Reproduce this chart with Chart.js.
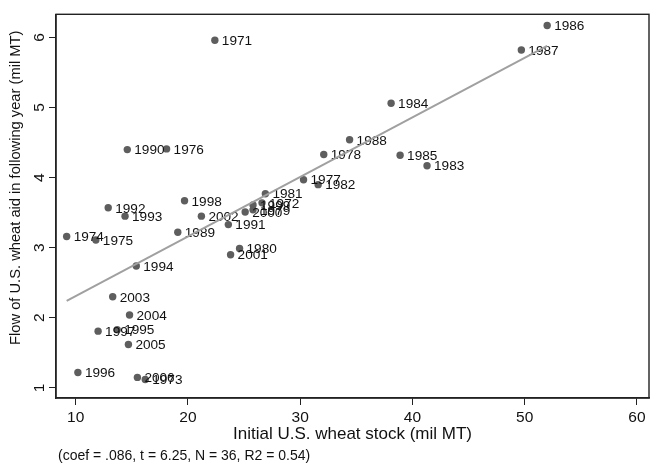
<!DOCTYPE html>
<html>
<head>
<meta charset="utf-8">
<script src="https://cdn.jsdelivr.net/npm/chart.js@4.4.1/dist/chart.umd.min.js"></script>
<style>
  html, body { margin: 0; padding: 0; background: #fff; }
  #wrap { width: 653px; height: 464px; }
</style>
</head>
<body>
<div id="wrap"><canvas id="wheatChart" width="653" height="464"></canvas></div>
<script>
// years used as point labels
const years = [1971, 1972, 1973, 1974, 1975, 1976, 1977, 1978, 1979, 1980,
  1981, 1982, 1983, 1984, 1985, 1986, 1987, 1988, 1989, 1990,
  1991, 1992, 1993, 1994, 1995, 1996, 1997, 1998, 1999, 2000,
  2001, 2002, 2003, 2004, 2005, 2006];

// initial stock (mil MT)
const stock = [22.4, 26.6, 16.2, 9.2, 11.8, 18.1, 30.3, 32.1, 25.8, 24.6,
  26.9, 31.6, 41.3, 38.1, 38.9, 52.0, 49.7, 34.4, 19.1, 14.6,
  23.6, 12.9, 14.4, 15.4, 13.7, 10.2, 12.0, 19.7, 25.8, 25.1,
  23.8, 21.2, 13.3, 14.8, 14.7, 15.5];

// aid flow in following year (mil MT)
const aid = [5.96, 3.64, 1.12, 3.16, 3.11, 4.41, 3.97, 4.33, 3.54, 2.99,
  3.77, 3.90, 4.17, 5.06, 4.32, 6.17, 5.82, 4.54, 3.22, 4.40,
  3.33, 3.57, 3.45, 2.74, 1.83, 1.22, 1.81, 3.67, 3.61, 3.51,
  2.90, 3.45, 2.30, 2.04, 1.62, 1.15];

// fitted line end points
const fitX = [9.2, 52.0];
const fitY = [2.24, 5.88];

const xTicks = [10, 20, 30, 40, 50, 60];
const yTicks = [1, 2, 3, 4, 5, 6];

const note = "(coef = .086, t = 6.25, N = 36, R2 = 0.54)";

const FONT = "'Liberation Sans', Arial, Helvetica, sans-serif";

/* point labels, drawn right after the scatter so the fit line sits on top */
const pointLabels = {
  id: "pointLabels",
  afterDatasetDraw(chart, args) {
    if (args.index !== 0) return;
    const ctx = chart.ctx;
    ctx.save();
    ctx.font = "13.6px " + FONT;
    ctx.fillStyle = "#111";
    ctx.textAlign = "left";
    ctx.textBaseline = "middle";
    args.meta.data.forEach((pt, i) => {
      ctx.fillText(String(years[i]), pt.x + 7, pt.y + 1);
    });
    ctx.restore();
  }
};

/* box round the plot region and the note under the x title */
const frameAndNote = {
  id: "frameAndNote",
  afterDraw(chart) {
    const ctx = chart.ctx;
    const a = chart.chartArea;
    ctx.save();
    ctx.strokeStyle = "#222";
    ctx.lineWidth = 1.4;
    ctx.strokeRect(a.left, a.top, a.right - a.left, a.bottom - a.top);
    ctx.font = "14px " + FONT;
    ctx.fillStyle = "#111";
    ctx.textAlign = "left";
    ctx.textBaseline = "middle";
    ctx.fillText(note, 58, 456);
    ctx.restore();
  }
};

new Chart(document.getElementById("wheatChart"), {
  type: "scatter",
  data: {
    datasets: [
      {
        label: "aid",
        data: stock.map((x, i) => ({ x: x, y: aid[i] })),
        backgroundColor: "#5e5e5e",
        borderWidth: 0,
        pointRadius: 3.7,
        order: 1
      },
      {
        type: "line",
        label: "fit",
        data: fitX.map((x, i) => ({ x: x, y: fitY[i] })),
        borderColor: "#a0a0a0",
        borderWidth: 2,
        pointRadius: 0,
        fill: false,
        order: 0
      }
    ]
  },
  options: {
    responsive: false,
    devicePixelRatio: 1,
    animation: false,
    layout: { padding: { top: 7, right: 2, left: 0, bottom: 19 } },
    plugins: {
      legend: { display: false },
      tooltip: { enabled: false }
    },
    scales: {
      x: {
        type: "linear",
        min: 8.25,
        max: 61.07,
        afterBuildTicks: s => { s.ticks = xTicks.map(v => ({ value: v })); },
        afterFit: s => { s.height = 47; },
        grid: { drawOnChartArea: false, drawTicks: true, tickLength: 7, color: "#222" },
        border: { display: true, color: "#222", width: 1.4 },
        ticks: { font: { family: FONT, size: 15.5 }, color: "#111", padding: 3, maxRotation: 0 },
        title: {
          display: true,
          text: "Initial U.S. wheat stock (mil MT)",
          font: { family: FONT, size: 17 },
          color: "#111",
          padding: 0
        }
      },
      y: {
        type: "linear",
        min: 0.856,
        max: 6.33,
        afterBuildTicks: s => { s.ticks = yTicks.map(v => ({ value: v })); },
        afterFit: s => { s.width = 56; },
        grid: { drawOnChartArea: false, drawTicks: true, tickLength: 7, color: "#222" },
        border: { display: true, color: "#222", width: 1.4 },
        ticks: {
          font: { family: FONT, size: 15.5 },
          color: "#111",
          minRotation: 90,
          maxRotation: 90,
          crossAlign: "center",
          padding: 5
        },
        title: {
          display: true,
          // leading spaces push the title up, as in the original layout
          text: "         Flow of U.S. wheat aid in following year (mil MT)",
          font: { family: FONT, size: 14.7 },
          color: "#111",
          padding: { top: 7, bottom: 0 }
        }
      }
    }
  },
  plugins: [pointLabels, frameAndNote]
});
</script>
</body>
</html>
